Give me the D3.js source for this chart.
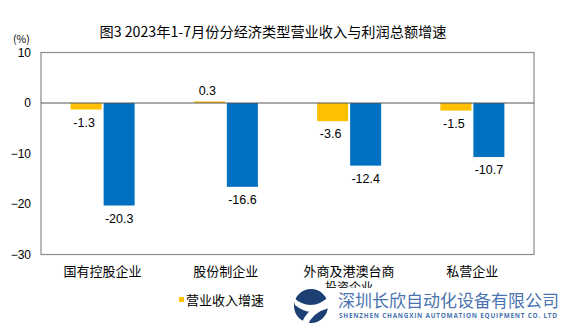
<!DOCTYPE html>
<html><head><meta charset="utf-8">
<script src="https://cdn.jsdelivr.net/npm/d3@7"></script>
<style>body{margin:0;background:#fff}svg{display:block}</style>
</head><body><div id="c"></div>
<script>
const categories = ["国有控股企业", "股份制企业", "外商及港澳台商投资企业", "私营企业"];
const revenueGrowth = [-1.3, 0.3, -3.6, -1.5];
const profitGrowth = [-20.3, -16.6, -12.4, -10.7];
const yTicks = [10, 0, -10, -20, -30];
const seriesNames = ["营业收入增速", "利润总额增速"];
const colors = ["#FFC000", "#0070C0"];

const W = 567, H = 327;
const svg = d3.select("#c").append("svg").attr("width", W).attr("height", H);
const L = 41, R = 534, T = 52.5, B = 254.5;
const CN = "'Noto Sans CJK SC', sans-serif";
const NUM = "'Liberation Sans', Arial, sans-serif";

const x = d3.scaleBand().domain(categories).range([L, R]);
const y = d3.scaleLinear().domain([-30, 10]).range([B, T]);

// title
svg.append("text").attr("x", 273).attr("y", 37).attr("text-anchor", "middle")
  .attr("font-family", CN).attr("font-size", 14.2).attr("fill", "#000")
  .text("图3  2023年1-7月份分经济类型营业收入与利润总额增速");
svg.append("text").attr("x", 13).attr("y", 43).attr("font-family", CN)
  .attr("font-size", 10.5).attr("fill", "#000").text("(%)");

// frame
svg.append("rect").attr("x", L).attr("y", T).attr("width", R - L).attr("height", B - T)
  .attr("fill", "none").attr("stroke", "#8c8c8c").attr("stroke-width", 1.2);

// y axis
const yAxis = d3.axisLeft(y).tickValues(yTicks).tickSize(0).tickPadding(10);
const ga = svg.append("g").attr("transform", `translate(${L},0)`).call(yAxis);
ga.select(".domain").remove();
ga.selectAll("text").attr("font-family", NUM).attr("font-size", 12).attr("fill", "#000");

const bw = 31, gap = 1;
const series = [revenueGrowth, profitGrowth];
series.forEach((vals, si) => {
  const xo = c => x(c) + x.bandwidth() / 2 + (si === 0 ? -gap - bw : gap);
  svg.append("g").selectAll("rect").data(categories).join("rect")
    .attr("x", c => xo(c))
    .attr("width", bw)
    .attr("y", (c, i) => y(Math.max(0, vals[i])))
    .attr("height", (c, i) => Math.max(1, Math.abs(y(vals[i]) - y(0))))
    .attr("fill", colors[si]);
  svg.append("g").selectAll("text").data(categories).join("text")
    .attr("x", c => xo(c) + bw / 2 + (si === 0 ? -2 : 0))
    .attr("y", (c, i) => vals[i] >= 0 ? y(vals[i]) - 6 : y(vals[i]) + 17)
    .attr("text-anchor", "middle").attr("font-family", NUM).attr("font-size", 12.5)
    .attr("fill", "#000").text((c, i) => vals[i].toFixed(1));
});

// zero line
svg.append("line").attr("x1", L).attr("x2", R).attr("y1", y(0)).attr("y2", y(0))
  .attr("stroke", "#555").attr("stroke-width", 1);

// category labels
svg.append("defs").append("clipPath").attr("id", "cut")
  .append("rect").attr("x", 0).attr("y", 0).attr("width", W).attr("height", 288);
categories.forEach(c => {
  const cx = x(c) + x.bandwidth() / 2;
  if (c.length > 8) {
    svg.append("text").attr("x", cx).attr("y", 276).attr("text-anchor", "middle")
      .attr("font-family", CN).attr("font-size", 13).text(c.slice(0, 7));
    svg.append("text").attr("x", cx).attr("y", 292).attr("text-anchor", "middle")
      .attr("clip-path", "url(#cut)")
      .attr("font-family", CN).attr("font-size", 12).text(c.slice(7));
  } else {
    svg.append("text").attr("x", cx).attr("y", 276).attr("text-anchor", "middle")
      .attr("font-family", CN).attr("font-size", 13).text(c);
  }
});

// legend (visible item only; second item hidden under watermark in the reference)
svg.append("rect").attr("x", 179).attr("y", 297).attr("width", 5).attr("height", 5).attr("fill", colors[0]);
svg.append("text").attr("x", 186).attr("y", 305).attr("font-family", CN).attr("font-size", 13)
  .text(seriesNames[0]);

// watermark
const wm = svg.append("g");
wm.append("circle").attr("cx", 311).attr("cy", 306).attr("r", 17).attr("fill", "#1c3f74");
wm.append("path").attr("d", "M293,297 Q311,314 331,295 L331,302 Q313,320 295,305 Z").attr("fill", "#fff");
wm.append("path").attr("d", "M301,325 Q307,307 327,302 L329,308 Q313,312 307,326 Z").attr("fill", "#fff");
wm.append("text").attr("x", 338).attr("y", 307).attr("font-family", CN).attr("font-size", 17)
  .attr("fill", "#4a73b0").text("深圳长欣自动化设备有限公司");
wm.append("text").attr("x", 339).attr("y", 318).attr("font-family", "'Open Sans', sans-serif").attr("font-weight", "bold")
  .attr("font-size", 6.4).attr("fill", "#4a73b0").attr("textLength", 218).text("SHENZHEN CHANGXIN AUTOMATION EQUIPMENT CO. LTD");
</script></body></html>
